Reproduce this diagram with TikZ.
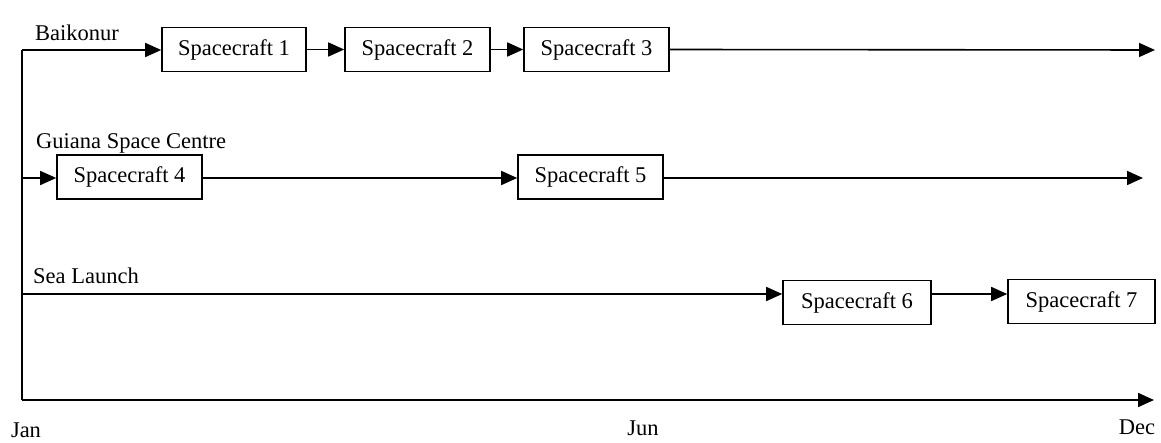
\documentclass[tikz,border=0pt]{standalone}
\usepackage{fontspec}
\setmainfont{Liberation Serif}
\usetikzlibrary{arrows.meta}
\begin{document}
\begin{tikzpicture}[x=1pt,y=-1pt,
  every node/.style={font=\fontsize{22.5}{26}\selectfont},
  craft/.style={draw,line width=1.6pt,minimum height=44pt,inner sep=0pt},
  lbl/.style={anchor=west,inner sep=0pt},
  conn/.style={line width=1.6pt},
  arr/.style={conn,-{Triangle[length=16pt,width=14pt]}}]
\useasboundingbox (0,0) rectangle (1161,443);
% rows
\coordinate (r1) at (22,50);
\coordinate (r2) at (22,178);
\coordinate (r3) at (22,294);
\coordinate (ax0) at (22,400);
\coordinate (ax1) at (1154,400);
\coordinate (e1) at (1155,50);
\coordinate (e2) at (1143,178);
% boxes
\node[craft,minimum width=144pt] (b1) at (234,49.5) {Spacecraft 1};
\node[craft,minimum width=145pt] (b2) at (417.5,49.5) {Spacecraft 2};
\node[craft,minimum width=145pt] (b3) at (596.5,49.5) {Spacecraft 3};
\node[craft,minimum width=145pt] (b4) at (129.5,177) {Spacecraft 4};
\node[craft,minimum width=145pt] (b5) at (590.5,177) {Spacecraft 5};
\node[craft,minimum width=148pt] (b6) at (857,302.5) {Spacecraft 6};
\node[craft,minimum width=147pt] (b7) at (1081.5,301.5) {Spacecraft 7};
% labels
\node[lbl] (l1) at (35,33) {Baikonur};
\node[lbl] (l2) at (36,143) {Guiana Space Centre};
\node[lbl] (l3) at (33,276) {Sea Launch};
\node (jan) at (26,430) {Jan};
\node (jun) at (643,428) {Jun};
\node (dec) at (1137,427) {Dec};
% connectors
\draw[conn] (r1) -- (ax0);
\draw[arr] (ax0) -- (ax1);
\draw[arr] (r1) -- (r1 -| b1.west);
\draw[arr] (b1.east) -- (b2.west);
\draw[arr] (b2.east) -- (b3.west);
\draw[arr] (b3.east) -- (e1);
\draw[arr] (r2) -- (r2 -| b4.west);
\draw[arr] (b4.east |- r2) -- (r2 -| b5.west);
\draw[arr] (b5.east |- r2) -- (e2);
\draw[arr] (r3) -- (r3 -| b6.west);
\draw[arr] (b6.east |- r3) -- (r3 -| b7.west);
\end{tikzpicture}
\end{document}
